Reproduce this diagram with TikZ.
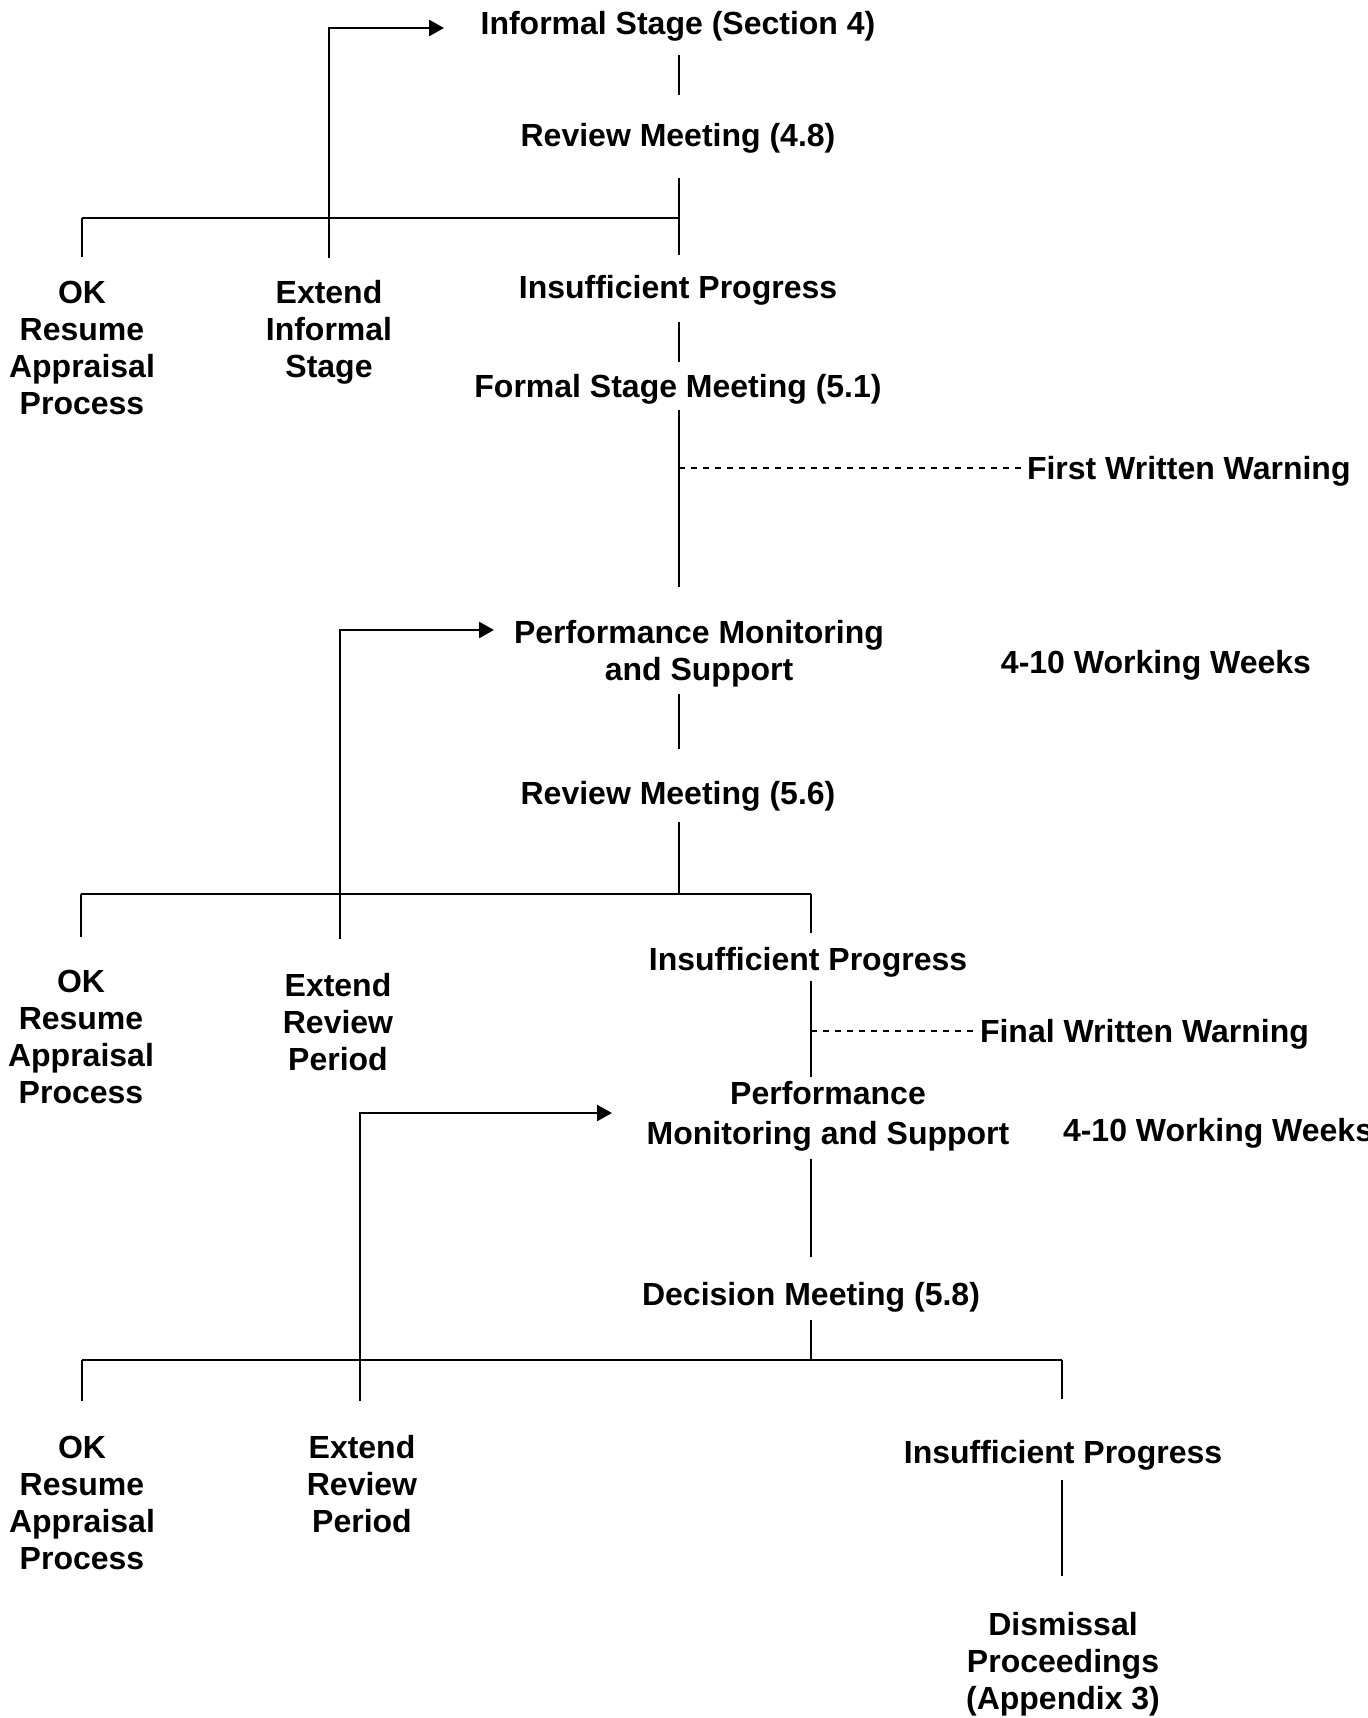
\documentclass[tikz,border=0pt]{standalone}
\usepackage{fontspec}
\setmainfont{Liberation Sans}
\usetikzlibrary{arrows.meta}

\begin{document}
\begin{tikzpicture}[x=0.5pt, y=-0.5pt, line width=1pt,
    main node/.style={font=\fontsize{16}{18.5}\selectfont\bfseries, align=center, inner sep=0pt},
    back arrow/.style={-{Triangle[length=7.5pt,width=8pt]}, line width=1.3pt},
    warn line/.style={dashed, line width=0.6pt}]

                \useasboundingbox (0,0) rectangle (1367,1718);

                % informal stage
                \node[main node] (inf) at (678, 26) {Informal Stage (Section 4)};
                \node[main node] (rev1) at (678, 138) {Review Meeting (4.8)};
                \node[main node] (ok1) at (82, 348) {OK\\Resume\\Appraisal\\Process};
                \node[main node] (ext1) at (329, 332) {Extend\\Informal\\Stage};
                \node[main node] (ins1) at (678, 290) {Insufficient Progress};
                \node[main node] (formal) at (678, 389) {Formal Stage Meeting (5.1)};
                \node[main node, anchor=west] (warn1) at (1026, 471) {First Written Warning};

                \coordinate (a1) at (679, 55);
                \coordinate (a2) at (679, 95);
                \coordinate (b1) at (679, 178);
                \coordinate (b2) at (679, 218);
                \coordinate (b3) at (679, 255);
                \coordinate (b4) at (82, 218);
                \coordinate (b5) at (82, 257);
                \coordinate (b6) at (329, 258);
                \coordinate (b7) at (444, 28);
                \coordinate (c1) at (679, 322);
                \coordinate (c2) at (679, 362);
                \coordinate (d1) at (679, 410);
                \coordinate (d2) at (679, 468);
                \coordinate (d3) at (679, 587);

                \path (a1) edge (a2);
                \path (b1) edge (b3);
                \path (b4) edge (b2);
                \path (b4) edge (b5);
                \draw[back arrow] (b6) |- (b7);
                \path (c1) edge (c2);
                \path (d1) edge (d3);
                \path[warn line] (d2) edge (d2 -| warn1.west);

                % first review period
                \node[main node] (perf1) at (699, 654) {Performance Monitoring\\and Support};
                \node[main node] (weeks1) at (1156, 665) {4-10 Working Weeks};
                \node[main node] (rev2) at (678, 796) {Review Meeting (5.6)};
                \node[main node] (ok2) at (81, 1037) {OK\\Resume\\Appraisal\\Process};
                \node[main node] (ext2) at (338, 1022) {Extend\\Review\\Period};
                \node[main node] (ins2) at (808, 962) {Insufficient Progress};
                \node[main node, anchor=west] (warn2) at (979, 1034) {Final Written Warning};

                \coordinate (e1) at (340, 939);
                \coordinate (e2) at (494, 630);
                \coordinate (f1) at (679, 694);
                \coordinate (f2) at (679, 749);
                \coordinate (g1) at (679, 822);
                \coordinate (g2) at (679, 894);
                \coordinate (g3) at (81, 894);
                \coordinate (g4) at (81, 937);
                \coordinate (g5) at (811, 894);
                \coordinate (g6) at (811, 933);
                \coordinate (h1) at (811, 981);
                \coordinate (h2) at (811, 1031);
                \coordinate (h3) at (811, 1077);

                \draw[back arrow] (e1) |- (e2);
                \path (f1) edge (f2);
                \path (g1) edge (g2);
                \path (g3) edge (g5);
                \path (g3) edge (g4);
                \path (g5) edge (g6);
                \path (h1) edge (h3);
                \path[warn line] (h2) edge (h2 -| warn2.west);

                % second review period
                \node[main node] (perf2) at (828, 1116) {Performance\\[1.5pt]Monitoring and Support};
                \node[main node, anchor=west] (weeks2) at (1062, 1133) {4-10 Working Weeks};
                \node[main node] (dec) at (811, 1297) {Decision Meeting (5.8)};
                \node[main node] (ok3) at (82, 1503) {OK\\Resume\\Appraisal\\Process};
                \node[main node] (ext3) at (362, 1484) {Extend\\Review\\Period};
                \node[main node] (ins3) at (1063, 1455) {Insufficient Progress};
                \node[main node] (dis) at (1063, 1664) {Dismissal\\Proceedings\\(Appendix 3)};

                \coordinate (k1) at (360, 1401);
                \coordinate (k2) at (612, 1113);
                \coordinate (m1) at (811, 1159);
                \coordinate (m2) at (811, 1257);
                \coordinate (n1) at (811, 1320);
                \coordinate (n2) at (811, 1360);
                \coordinate (n3) at (82, 1360);
                \coordinate (n4) at (82, 1401);
                \coordinate (n5) at (1062, 1360);
                \coordinate (n6) at (1062, 1399);
                \coordinate (p1) at (1062, 1480);
                \coordinate (p2) at (1062, 1576);

                \draw[back arrow] (k1) |- (k2);
                \path (m1) edge (m2);
                \path (n1) edge (n2);
                \path (n3) edge (n5);
                \path (n3) edge (n4);
                \path (n5) edge (n6);
                \path (p1) edge (p2);
            \end{tikzpicture}
\end{document}
